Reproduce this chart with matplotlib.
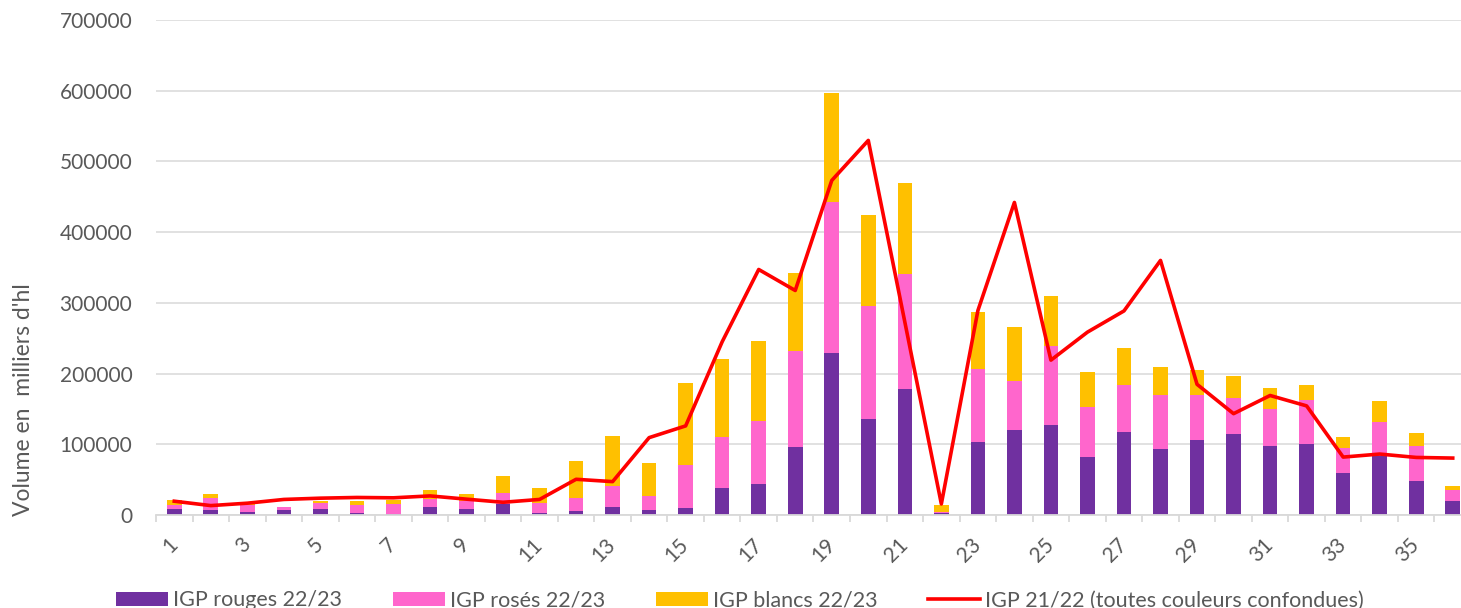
import numpy as np
import matplotlib.pyplot as plt

plt.rcParams['font.family'] = ['Lato', 'DejaVu Sans']

# data
semaines = np.arange(1, 37)
rouges = [9000, 6700, 3800, 6700, 9000, 3300, 1900, 11000, 8100, 16000, 3300, 5200,
          11800, 6600, 9400, 37700, 43400, 95800, 228800, 135400, 177800, 2400,
          102900, 120500, 126700, 82400, 117600, 93800, 106200, 115200, 98100,
          100000, 59500, 83000, 48600, 20000]
roses = [5000, 17300, 10500, 4300, 7700, 10500, 13800, 11800, 11400, 14500, 14300, 19000,
         29200, 19800, 60900, 72300, 90100, 135800, 213700, 159900, 163200, 2300,
         103000, 69000, 111900, 70000, 66200, 75700, 63300, 50000, 51400,
         63300, 35700, 48000, 49500, 15200]
blancs = [7000, 5000, 1700, 1000, 3800, 6700, 5300, 13200, 10000, 24200, 20400, 52800,
          70300, 47200, 116000, 111200, 112700, 111300, 154200, 128700, 127900, 9900,
          80600, 76200, 70900, 49500, 52900, 40500, 35700, 31900, 29500,
          20500, 15300, 30900, 18100, 5800]
igp_2122 = [19500, 13300, 16700, 22000, 23800, 24800, 24300, 27000, 22400, 18000, 22000, 50500,
            47200, 109400, 126000, 245000, 347200, 317500, 473100, 529700, 273000, 15600,
            289000, 442000, 219000, 258600, 288600, 360000, 184800, 143300, 169000,
            154300, 81900, 86200, 81400, 80500]

c_rouge = '#7030A0'
c_rose = '#FF66CC'
c_blanc = '#FFC000'
c_ligne = '#FF0000'
c_texte = '#595959'
c_grille = '#D9D9D9'

W, H = 1461, 608
fig = plt.figure(figsize=(W / 100, H / 100), dpi=100)
ax = fig.add_axes([156 / W, (H - 515) / H, 1315 / W, 495 / H])

rouges = np.array(rouges)
roses = np.array(roses)
blancs = np.array(blancs)
b1 = ax.bar(semaines, rouges, width=0.4, color=c_rouge, label='IGP rouges 22/23', zorder=2)
b2 = ax.bar(semaines, roses, width=0.4, bottom=rouges, color=c_rose,
            label='IGP rosés 22/23', zorder=2)
b3 = ax.bar(semaines, blancs, width=0.4, bottom=rouges + roses, color=c_blanc,
            label='IGP blancs 22/23', zorder=2)
l1, = ax.plot(semaines, igp_2122, color=c_ligne, lw=2.6, solid_joinstyle='round',
              label='IGP 21/22 (toutes couleurs confondues)', zorder=3)

ax.set_xlim(0.5, 36.5)
ax.set_ylim(0, 700000)
ax.set_yticks(np.arange(0, 700001, 100000))
ax.grid(axis='y', color=c_grille, lw=1.1, zorder=0)
ax.set_axisbelow(True)
for s in ['top', 'right', 'left']:
    ax.spines[s].set_visible(False)
ax.spines['bottom'].set_color(c_grille)
ax.spines['bottom'].set_linewidth(1.3)

ax.tick_params(axis='y', length=0, pad=17, labelsize=15, labelcolor=c_texte)
ax.set_xticks(semaines[::2])
ax.set_xticklabels([str(s) for s in semaines[::2]], rotation=45, ha='right', va='center',
                   rotation_mode='anchor')
ax.tick_params(axis='x', which='major', length=0, pad=19, labelsize=15, labelcolor=c_texte)
ax.set_xticks(np.arange(0.5, 37, 1), minor=True)
ax.tick_params(axis='x', which='minor', length=5, width=1.3, color=c_grille)

fig.text(24 / W, 1 - 400 / H, "Volume en  milliers d'hl", rotation=90, ha='center', va='center',
         fontsize=16.5, color=c_texte)

fig.legend(handles=[b1, b2, b3, l1], loc='lower left', bbox_to_anchor=(116 / W, -0.004),
           ncol=4, frameon=False, fontsize=15.5, labelcolor=c_texte, borderpad=0,
           borderaxespad=0, handlelength=2.42, handleheight=0.6, handletextpad=0.25,
           columnspacing=2.33)

fig.savefig('out.png', dpi=100)
